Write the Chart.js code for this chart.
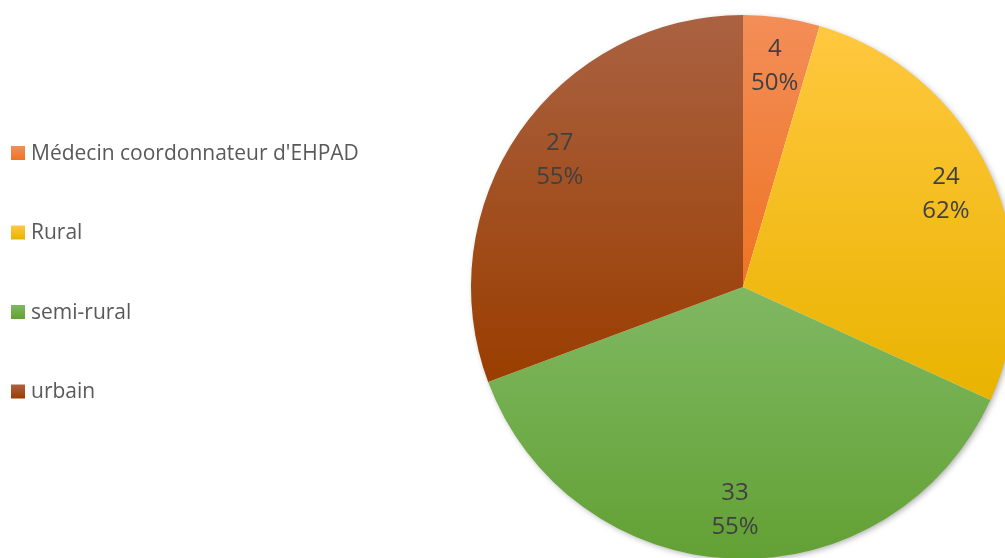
<!DOCTYPE html>
<html>
<head>
<meta charset="utf-8">
<script src="https://cdn.jsdelivr.net/npm/chart.js@4"></script>
<style>
  html, body { margin: 0; padding: 0; background: #fff; overflow: hidden; }
  #wrap { width: 1005px; height: 558px; overflow: hidden; position: relative; }
</style>
</head>
<body>
<div id="wrap"><canvas id="pie" width="1020" height="560"></canvas></div>
<script>
const categories = ["Médecin coordonnateur d'EHPAD", "Rural", "semi-rural", "urbain"];
const counts = [4, 24, 33, 27];
const percentLabels = ["50%", "62%", "55%", "55%"];
const topColors = ["#F38E58", "#FFC83F", "#80B862", "#AA6242"];
const bottomColors = ["#EE7424", "#E9B300", "#62A134", "#9A3D00"];

const total = counts.reduce((a, b) => a + b, 0);

// vertical gradient over each slice's own height, like the office fill
function sliceFill(ctx) {
    const chart = ctx.chart;
    const area = chart.chartArea;
    const i = ctx.dataIndex;
    if (!area) return bottomColors[i];
    const cx = (area.left + area.right) / 2;
    const cy = (area.top + area.bottom) / 2;
    const r = Math.min(area.width, area.height) / 2;
    let before = 0;
    for (let k = 0; k < i; k++) before += counts[k];
    const start = -Math.PI / 2 + 2 * Math.PI * before / total;
    const end = start + 2 * Math.PI * counts[i] / total;
    const ys = [cy, cy + r * Math.sin(start), cy + r * Math.sin(end)];
    if (start < Math.PI / 2 && end > Math.PI / 2) ys.push(cy + r);
    if (start <= -Math.PI / 2 || end >= 1.5 * Math.PI) ys.push(cy - r);
    const g = chart.ctx.createLinearGradient(0, Math.min(...ys), 0, Math.max(...ys));
    g.addColorStop(0, topColors[i]);
    g.addColorStop(1, bottomColors[i]);
    return g;
}

const shadowPlugin = {
    id: "shadow",
    beforeDatasetsDraw(chart) {
        const arc = chart.getDatasetMeta(0).data[0];
        if (!arc) return;
        const c = chart.ctx;
        c.save();
        c.shadowColor = "rgba(0,0,0,0.35)";
        c.shadowBlur = 6;
        c.shadowOffsetX = 2;
        c.shadowOffsetY = 2;
        c.fillStyle = "#ffffff";
        c.beginPath();
        c.arc(arc.x, arc.y, arc.outerRadius - 1, 0, Math.PI * 2);
        c.fill();
        c.restore();
    }
};

const labelPlugin = {
    id: "sliceLabels",
    afterDatasetsDraw(chart) {
        const c = chart.ctx;
        c.save();
        c.font = "24px 'Open Sans'";
        c.fillStyle = "#404040";
        c.textAlign = "center";
        c.textBaseline = "middle";
        chart.getDatasetMeta(0).data.forEach((arc, i) => {
            const mid = (arc.startAngle + arc.endAngle) / 2;
            const x = arc.x + Math.cos(mid) * arc.outerRadius * 0.82;
            const y = arc.y + Math.sin(mid) * arc.outerRadius * 0.82;
            c.fillText(String(counts[i]), x, y - 17);
            c.fillText(percentLabels[i], x, y + 17);
        });
        c.restore();
    }
};

const legendPlugin = {
    id: "sideLegend",
    afterDraw(chart) {
        const c = chart.ctx;
        c.save();
        c.font = "21px 'Open Sans'";
        c.textBaseline = "middle";
        categories.forEach((name, i) => {
            const y = 153 + i * 79.5;
            const g = c.createLinearGradient(0, y - 7, 0, y + 7);
            g.addColorStop(0, topColors[i]);
            g.addColorStop(1, bottomColors[i]);
            c.fillStyle = g;
            c.fillRect(11, y - 7, 14, 14);
            c.fillStyle = "#595959";
            c.fillText(name, 31, y + 1);
        });
        c.restore();
    }
};

new Chart(document.getElementById("pie"), {
    type: "pie",
    data: {
        labels: categories,
        datasets: [{
            data: counts,
            backgroundColor: sliceFill,
            borderWidth: 0
        }]
    },
    options: {
        responsive: false,
        animation: false,
        devicePixelRatio: 1,
        layout: { padding: { left: 471, top: 15, right: 5, bottom: 1 } },
        plugins: {
            legend: { display: false },
            tooltip: { enabled: false }
        }
    },
    plugins: [shadowPlugin, labelPlugin, legendPlugin]
});
</script>
</body>
</html>
